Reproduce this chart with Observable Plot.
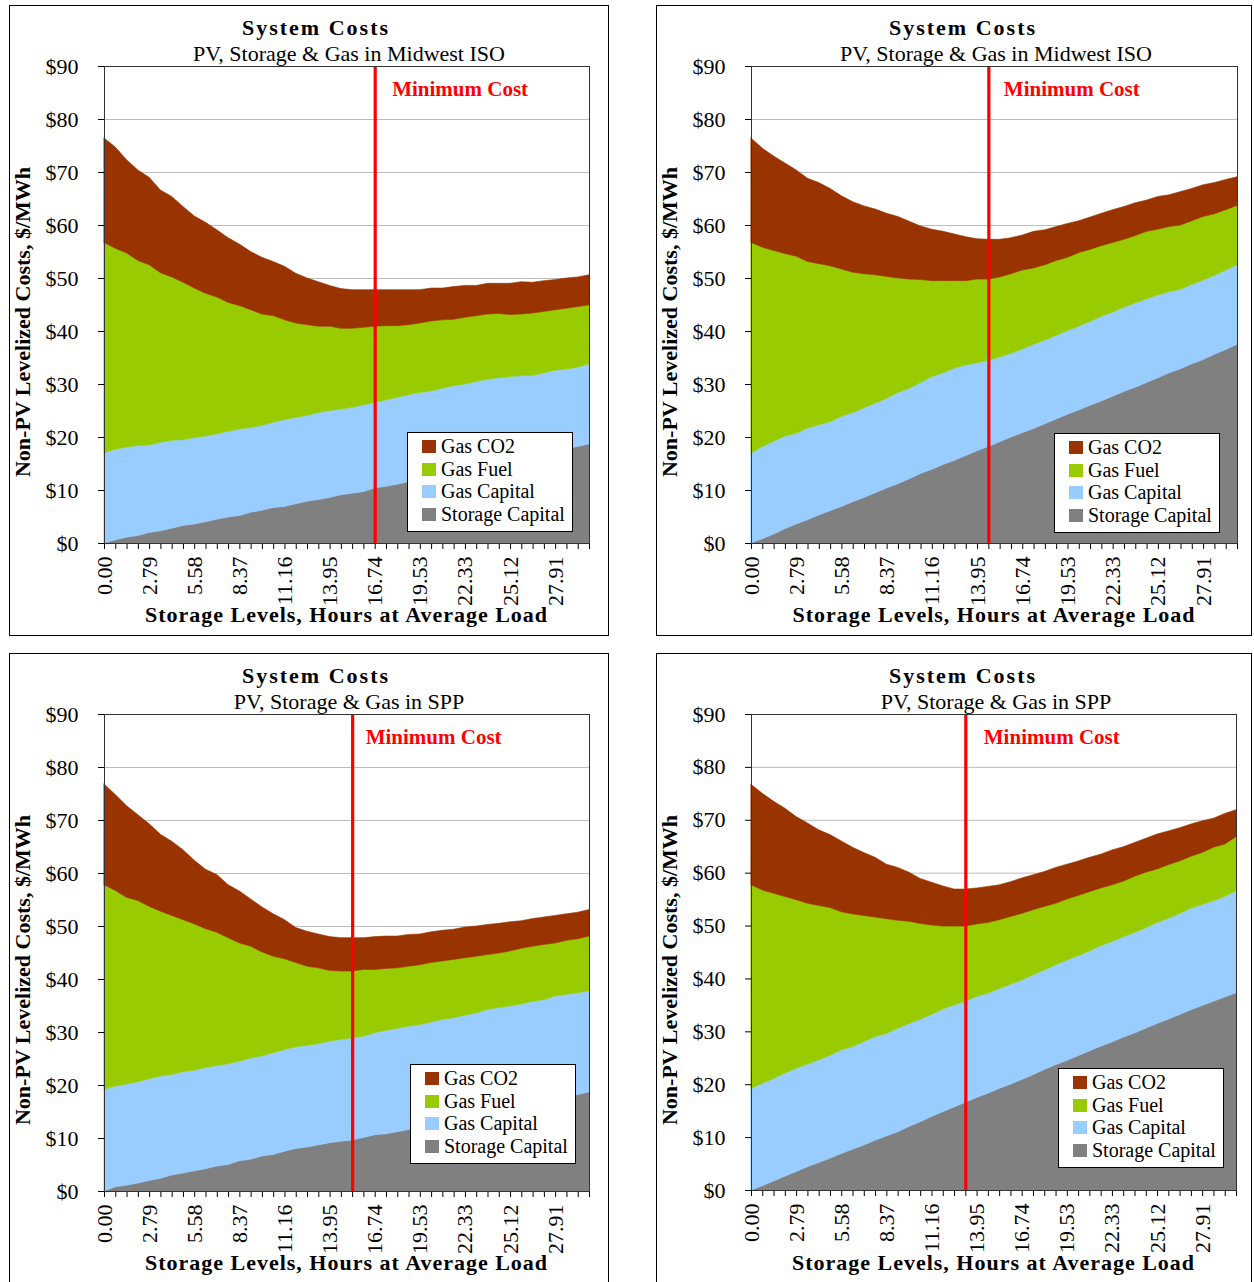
<!DOCTYPE html>
<html>
<head>
<meta charset="utf-8">
<script src="https://cdn.jsdelivr.net/npm/d3@7"></script>
<script src="https://cdn.jsdelivr.net/npm/@observablehq/plot@0.6"></script>
<style>
  body { margin: 0; background: #fff; }
  #page { position: relative; width: 1254px; height: 1282px; overflow: hidden; background: #fff;
          font-family: "Liberation Serif", "Times New Roman", serif; color: #000; }
  .panel { position: absolute; }
  .panel svg { position: absolute; left: 0; top: 0; }
  .border { position: absolute; left: 0; top: 0; right: 0; bottom: 0; border: 1.5px solid #000;
            box-sizing: border-box; pointer-events: none; }
  .txt { position: absolute; white-space: nowrap; line-height: 1; }
  .title { font-weight: bold; font-size: 22px; letter-spacing: 2px; transform: translateX(-50%); }
  .subtitle { font-size: 22px; transform: translateX(-50%); }
  .ytitle { font-weight: bold; font-size: 22px; line-height: 22px; transform: translate(-50%, -50%) rotate(-90deg); }
  .xtitle { font-weight: bold; font-size: 22px; letter-spacing: 1px; transform: translateX(-50%); }
  .legend { position: absolute; width: 166px; height: 100px; border: 1px solid #000; background: #fff; box-sizing: border-box; }
  .sw { position: absolute; width: 14px; height: 13px; }
  .lt { position: absolute; font-size: 20px; line-height: 1; white-space: nowrap; }
</style>
</head>
<body>
<div id="page"></div>
<script>
// ---------- data ----------
const storageLevels = ["0.00","0.70","1.40","2.09","2.79","3.49","4.19","4.88","5.58","6.28",
  "6.98","7.67","8.37","9.07","9.77","10.47","11.16","11.86","12.56","13.26",
  "13.95","14.65","15.35","16.05","16.74","17.44","18.14","18.84","19.53","20.23",
  "20.93","21.63","22.33","23.02","23.72","24.42","25.12","25.81","26.51","27.21",
  "27.91","28.60","29.30","30.00"];

const yTicks = [0, 10, 20, 30, 40, 50, 60, 70, 80, 90];

const seriesNames = ["Storage Capital", "Gas Capital", "Gas Fuel", "Gas CO2"];

const chartTitles = ["System Costs", "System Costs", "System Costs", "System Costs"];
const chartSubtitles = ["PV, Storage & Gas in Midwest ISO", "PV, Storage & Gas in Midwest ISO",
  "PV, Storage & Gas in SPP", "PV, Storage & Gas in SPP"];
const minCostLevels = ["16.74", "14.65", "15.35", "13.26"];
const minCostLabel = "Minimum Cost";
const yTitle = "Non-PV Levelized Costs, $/MWh";
const xTitle = "Storage Levels, Hours at Average Load";

// Panel 1: Midwest ISO (first)
const miso1Storage = [0,0.6,1.1,1.4,2.0,2.3,2.8,3.3,3.6,4.0, 4.5,4.9,5.2,5.8,6.2,6.7,6.9,7.4,7.9,8.2,
  8.6,9.1,9.4,9.7,10.4,10.7,11.1,11.6,12.0,12.4, 12.8,13.3,13.7,14.1,14.6,15.0,15.4,15.9,16.3,16.8,
  17.3,17.8,18.2,18.7];
const miso1GasCapital = [17.0,17.1,17.0,17.0,16.5,16.7,16.6,16.2,16.3,16.2, 16.1,16.2,16.3,16.0,16.0,16.1,16.4,16.3,16.2,16.4,
  16.4,16.2,16.2,16.4,16.1,16.3,16.4,16.4,16.4,16.3, 16.4,16.4,16.3,16.4,16.3,16.2,16.0,15.7,15.3,15.3,
  15.3,15.0,15.0,15.1];
const miso1GasFuel = [39.7,37.9,36.6,34.9,34.0,32.0,30.8,29.7,28.2,26.9, 25.8,24.3,23.3,22.2,21.0,20.1,18.8,17.8,17.1,16.3,
  15.9,15.2,14.9,14.6,14.4,14.0,13.5,13.2,13.1,13.2, 12.9,12.5,12.6,12.4,12.3,12.1,11.7,11.6,11.8,11.6,
  11.4,11.5,11.4,11.1];
const miso1GasCO2 = [19.7,19.1,17.6,17.1,16.5,15.6,15.2,14.3,13.6,13.4, 12.7,12.2,11.6,11.0,10.7,10.2,10.1,9.4,8.8,8.4,
  7.7,7.5,7.3,7.1,6.9,6.8,6.8,6.6,6.3,6.2, 6.0,6.2,6.0,5.7,5.8,5.7,5.9,6.1,5.8,5.8,
  5.7,5.7,5.6,5.7];

// Panel 2: Midwest ISO (second)
const miso2Storage = [0,0.8,1.7,2.7,3.6,4.4,5.3,6.1,6.9,7.8, 8.6,9.5,10.4,11.2,12.1,13.1,13.9,14.8,15.6,16.5,
  17.4,18.2,19.1,20.0,20.8,21.6,22.5,23.4,24.3,25.1, 26.0,26.8,27.7,28.6,29.4,30.3,31.2,32.1,32.9,33.8,
  34.6,35.6,36.5,37.5];
const miso2GasCapital = [17.0,17.4,17.5,17.5,17.1,17.3,17.0,16.8,17.0,16.8, 16.9,16.9,16.9,17.2,17.1,17.2,17.5,17.3,17.4,17.1,
  16.6,16.3,16.0,15.8,15.8,15.9,15.8,15.8,15.8,15.8, 15.8,16.0,15.9,15.9,15.9,15.8,15.6,15.3,15.0,15.0,
  15.0,14.9,15.0,15.0];
const miso2GasFuel = [39.7,37.6,36.0,34.4,33.4,31.4,30.4,29.4,27.8,26.5, 25.3,24.2,23.0,21.6,20.6,19.4,18.1,17.4,16.5,15.9,
  15.8,15.3,15.1,15.0,14.9,14.4,14.2,14.1,13.8,13.9, 13.6,13.3,13.1,12.8,12.7,12.7,12.4,12.3,12.1,12.0,
  12.0,11.6,11.4,11.2];
const miso2GasCO2 = [19.7,18.7,17.8,17.1,16.3,15.7,15.3,14.6,13.8,13.3, 12.8,12.4,11.9,11.6,10.9,10.1,9.7,9.3,8.8,8.3,
  7.6,7.5,7.1,6.8,6.6,6.9,6.6,6.4,6.4,6.0, 6.1,6.1,6.2,6.2,6.2,5.9,6.2,6.0,6.3,6.1,
  6.0,5.9,5.7,5.4];

// Panel 3: SPP (first)
const spp1Storage = [0,0.8,1.1,1.5,2.0,2.4,3.0,3.4,3.8,4.2, 4.7,5.0,5.7,6.0,6.6,6.9,7.5,8.0,8.3,8.7,
  9.1,9.4,9.6,10.1,10.6,10.8,11.2,11.6,12.0,12.5, 12.9,13.3,13.8,14.2,14.7,15.1,15.5,16.0,16.4,16.9,
  17.3,17.8,18.2,18.7];
const spp1GasCapital = [19.2,19.0,19.1,19.1,19.2,19.3,19.0,19.1,19.0,19.1, 19.0,19.0,18.8,19.1,18.9,19.2,19.2,19.2,19.2,19.1,
  19.2,19.2,19.3,19.1,19.3,19.5,19.5,19.5,19.4,19.4, 19.5,19.4,19.4,19.4,19.6,19.5,19.4,19.3,19.4,19.2,
  19.5,19.3,19.2,19.1];
const spp1GasFuel = [38.6,36.9,35.2,34.2,32.5,31.1,30.0,28.7,27.6,26.2, 25.1,23.8,22.3,21.1,19.6,18.2,17.1,15.9,14.9,14.3,
  13.3,12.9,12.6,12.6,11.9,11.7,11.4,11.3,11.3,11.2, 11.0,11.0,10.8,10.7,10.3,10.3,10.4,10.5,10.4,10.4,
  10.0,10.2,10.2,10.3];
const spp1GasCO2 = [19.0,18.1,17.3,16.2,15.6,14.5,14.0,13.2,12.0,11.2, 10.9,10.0,9.8,8.9,8.5,8.0,7.4,6.6,6.6,6.4,
  6.4,6.3,6.3,6.0,6.2,6.1,6.0,6.0,5.8,5.8, 5.8,5.7,5.8,5.7,5.7,5.6,5.5,5.2,5.2,5.2,
  5.2,5.0,5.0,5.0];

// Panel 4: SPP (second)
const spp2Storage = [0,0.8,1.7,2.6,3.5,4.4,5.2,6.0,6.9,7.7, 8.5,9.4,10.2,11.0,12.0,12.9,13.9,14.8,15.7,16.6,
  17.5,18.3,19.2,20.0,20.9,21.8,22.8,23.7,24.5,25.4, 26.3,27.2,28.0,28.9,29.7,30.6,31.5,32.3,33.2,34.1,
  34.9,35.7,36.5,37.3];
const spp2GasCapital = [19.2,19.4,19.4,19.5,19.5,19.4,19.4,19.5,19.6,19.4, 19.6,19.6,19.4,19.6,19.5,19.4,19.3,19.4,19.3,19.1,
  19.1,18.9,18.9,18.9,18.8,18.9,18.8,18.9,19.0,18.9, 18.9,19.0,19.0,19.0,19.0,19.0,19.1,19.1,19.1,19.2,
  19.1,19.0,19.0,19.3];
const spp2GasFuel = [38.5,36.5,35.0,33.4,31.9,30.4,29.2,27.9,26.1,25.1, 23.8,22.6,21.7,20.4,19.3,18.1,16.9,15.7,14.9,14.2,
  13.7,13.4,13.0,12.8,12.6,12.3,12.0,11.6,11.5,11.4, 11.2,10.9,10.7,10.5,10.6,10.5,10.1,10.1,9.9,9.8,
  9.8,10.1,9.9,10.2];
const spp2GasCO2 = [19.0,18.3,17.4,16.7,15.7,15.2,14.3,13.8,13.4,12.6, 11.9,11.3,10.3,10.0,9.3,8.5,8.1,7.6,7.0,7.0,
  6.8,6.8,6.6,6.6,6.7,6.6,6.6,6.8,6.6,6.5, 6.5,6.4,6.6,6.5,6.4,6.4,6.6,6.4,6.3,6.1,
  6.0,5.5,5.8,5.1];

// ---------- styles / layout (kept apart from data) ----------
const seriesColors = ["#808080", "#99CCFF", "#99CC00", "#993300"];
const layout = [
  {left: 9,   top: 5,   w: 600, h: 631, mr: 20, mb: 93, legendX: 398, legendY: 427, textDx: 17},
  {left: 656, top: 5,   w: 596, h: 631, mr: 15, mb: 93, legendX: 398, legendY: 428, textDx: 15},
  {left: 9,   top: 653, w: 600, h: 631, mr: 20, mb: 93, legendX: 401, legendY: 411, textDx: 13},
  {left: 656, top: 653, w: 596, h: 631, mr: 16, mb: 94, legendX: 402, legendY: 415, textDx: 18}
];

const panelSeries = [
  [miso1Storage, miso1GasCapital, miso1GasFuel, miso1GasCO2],
  [miso2Storage, miso2GasCapital, miso2GasFuel, miso2GasCO2],
  [spp1Storage, spp1GasCapital, spp1GasFuel, spp1GasCO2],
  [spp2Storage, spp2GasCapital, spp2GasFuel, spp2GasCO2]
];

const page = document.getElementById("page");

function addText(parent, cls, text, left, top) {
  const d = document.createElement("div");
  d.className = "txt " + cls;
  d.textContent = text;
  d.style.left = left + "px";
  d.style.top = top + "px";
  parent.appendChild(d);
  return d;
}

panelSeries.forEach((series, p) => {
  const L = layout[p];
  const panel = document.createElement("div");
  panel.className = "panel";
  panel.style.left = L.left + "px";
  panel.style.top = L.top + "px";
  panel.style.width = L.w + "px";
  panel.style.height = L.h + "px";
  page.appendChild(panel);

  const rows = [];
  seriesNames.forEach((name, k) => {
    series[k].forEach((v, i) => rows.push({level: storageLevels[i], series: name, value: v}));
  });

  const chart = Plot.plot({
    width: L.w, height: L.h,
    marginLeft: 95, marginRight: L.mr, marginTop: 61, marginBottom: L.mb,
    style: {fontFamily: '"Liberation Serif", "Times New Roman", serif', fontSize: "22px",
            background: "transparent", color: "#000", overflow: "visible"},
    x: {type: "point", domain: storageLevels, padding: 0, round: false},
    y: {domain: [0, 90]},
    color: {domain: seriesNames, range: seriesColors},
    marks: [
      Plot.gridY(yTicks.slice(1, -1), {stroke: "#bdbdbd", strokeOpacity: 1, strokeWidth: 1}),
      Plot.areaY(rows, {x: "level", y: "value", fill: "series", stroke: "series", strokeWidth: 0.6}),
      Plot.ruleX([minCostLevels[p]], {stroke: "#ff0000", strokeWidth: 3.2}),
      Plot.text([minCostLabel], {x: () => minCostLevels[p], frameAnchor: "top", dy: 29, dx: L.textDx,
        textAnchor: "start", lineAnchor: "bottom", fill: "#ff0000", fontWeight: "bold", fontSize: 21}),
      Plot.axisY(yTicks, {tickSize: 6, tickPadding: 20, tickFormat: d => "$" + d, label: null}),
      Plot.axisX(storageLevels, {tickSize: 6, tickPadding: 7, tickRotate: -90,
        tickFormat: d => storageLevels.indexOf(d) % 4 === 0 ? d : "", label: null}),
      Plot.frame({stroke: "#333", strokeWidth: 1})
    ]
  });
  panel.appendChild(chart);

  // titles
  addText(panel, "title", chartTitles[p], 307, 11.6);
  addText(panel, "subtitle", chartSubtitles[p], 340, 37.6);
  addText(panel, "ytitle", yTitle, 14, 317);
  const plotCenter = 95 + (L.w - 95 - L.mr) / 2;
  addText(panel, "xtitle", xTitle, plotCenter, 598.6);

  // legend
  const lg = document.createElement("div");
  lg.className = "legend";
  lg.style.left = L.legendX + "px";
  lg.style.top = L.legendY + "px";
  panel.appendChild(lg);
  const order = [3, 2, 1, 0];
  order.forEach((k, j) => {
    const sw = document.createElement("div");
    sw.className = "sw";
    sw.style.left = "14px";
    sw.style.top = (7 + j * 22.6) + "px";
    sw.style.background = seriesColors[k];
    lg.appendChild(sw);
    const t = document.createElement("div");
    t.className = "lt";
    t.textContent = seriesNames[k];
    t.style.left = "33px";
    t.style.top = (3 + j * 22.6) + "px";
    lg.appendChild(t);
  });

  const border = document.createElement("div");
  border.className = "border";
  panel.appendChild(border);
});
</script>
</body>
</html>
